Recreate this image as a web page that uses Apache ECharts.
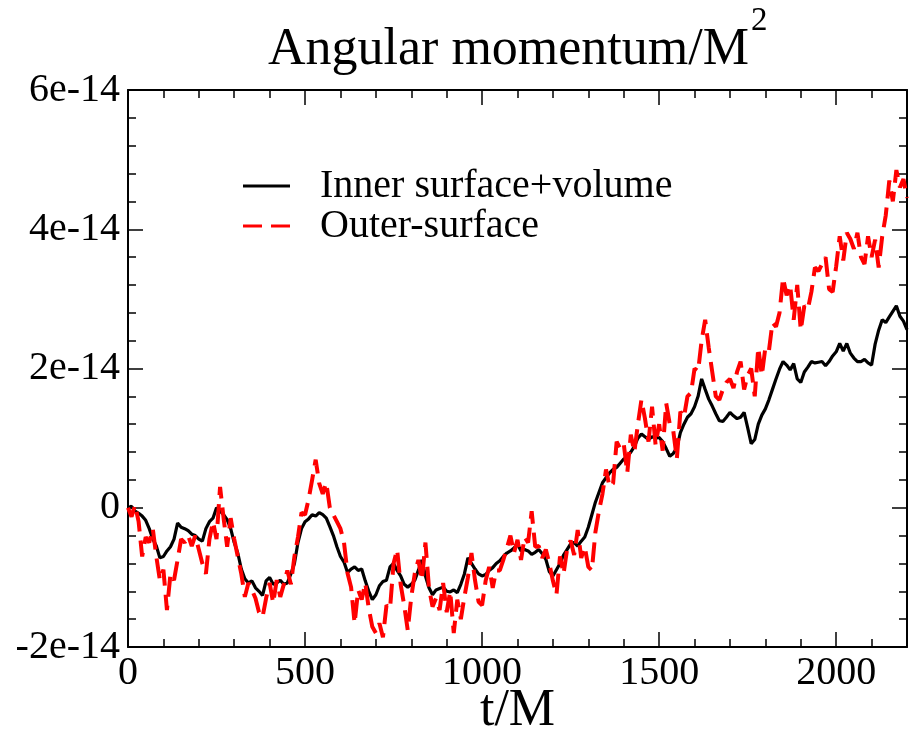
<!DOCTYPE html>
<html>
<head>
<meta charset="utf-8">
<script src="https://cdn.jsdelivr.net/npm/echarts@6/dist/echarts.min.js"></script>
<style>
html,body{margin:0;padding:0;background:#fff;}
#chart{width:910px;height:729px;}
</style>
</head>
<body>
<div id="chart"></div>
<script>
// Values are in units of 1e-14 (Angular momentum / M^2), sampled every 10 t/M from 0 to 2200.
const T_START = 0;
const T_STEP = 10;
const innerSurfaceVolume = [
  0.0, 0.02, -0.05, -0.08, -0.12, -0.18, -0.3, -0.45, -0.55, -0.72,
  -0.7, -0.62, -0.56, -0.45, -0.22, -0.28, -0.3, -0.33, -0.38, -0.4,
  -0.45, -0.48, -0.3, -0.2, -0.15, 0.0, -0.05, -0.1, -0.17, -0.3,
  -0.5, -0.65, -0.88, -1.02, -1.08, -1.05, -1.15, -1.2, -1.26, -1.05,
  -1.0, -1.1, -1.08, -1.04, -1.1, -1.08, -0.95, -0.8, -0.5, -0.3,
  -0.2, -0.16, -0.1, -0.12, -0.07, -0.1, -0.15, -0.27, -0.4, -0.56,
  -0.7, -0.78, -0.93, -0.88, -0.85, -0.9, -0.88, -1.05, -1.2, -1.32,
  -1.25, -1.12, -1.06, -1.04, -0.85, -0.8, -0.9, -0.98, -1.1, -1.14,
  -1.1, -1.04, -0.9, -0.75, -0.98, -1.15, -1.25, -1.18, -1.16, -1.14,
  -1.2, -1.21, -1.18, -1.22, -1.1, -0.95, -0.72, -0.8, -0.88, -0.95,
  -0.98, -0.96, -0.9, -0.86, -0.8, -0.76, -0.7, -0.65, -0.62, -0.58,
  -0.52, -0.62, -0.6, -0.62, -0.67, -0.64, -0.6, -0.66, -0.74, -0.92,
  -0.98, -0.89, -0.8, -0.68, -0.6, -0.52, -0.5, -0.55, -0.48, -0.42,
  -0.28, -0.1, 0.08, 0.22, 0.36, 0.43, 0.5, 0.55, 0.58, 0.64,
  0.7, 0.73, 0.8, 0.88, 1.0, 1.06, 1.02, 0.98, 1.02, 1.0,
  1.01, 0.95, 0.85, 0.74, 0.78, 0.86, 1.08, 1.2, 1.3, 1.35,
  1.45, 1.6, 1.85, 1.7, 1.56, 1.46, 1.35, 1.25, 1.24, 1.3,
  1.37, 1.32, 1.28, 1.3, 1.37, 1.15, 0.92, 0.98, 1.2, 1.33,
  1.42, 1.55, 1.7, 1.85, 1.99, 2.1, 2.05, 1.98, 2.07, 1.85,
  1.8, 1.95, 2.02, 2.1, 2.08, 2.09, 2.1, 2.04, 2.1, 2.18,
  2.24, 2.36, 2.25, 2.36, 2.22, 2.15, 2.1, 2.1, 2.13, 2.08,
  2.05, 2.35, 2.55, 2.7, 2.66, 2.74, 2.82, 2.9, 2.75, 2.68,
  2.56
];
const outerSurface = [
  0.0, -0.13, 0.04, -0.2, -0.7, -0.42, -0.5, -0.3, -0.7, -1.04,
  -0.89, -1.47, -0.95, -1.04, -0.75, -0.45, -0.5, -0.4, -0.55, -0.4,
  -0.6, -0.8, -0.95, -0.45, -0.2, -0.45, 0.3, -0.15, -0.56, -0.15,
  -0.45, -0.7, -0.95, -1.28, -1.08, -1.18, -1.3, -1.5, -1.57, -1.3,
  -1.08, -1.37, -1.04, -1.28, -1.1, -0.9, -1.1, -0.7, -0.42, -0.07,
  -0.1, 0.12, 0.4, 0.69, 0.35, 0.2, 0.36, 0.0, -0.1, -0.2,
  -0.3, -0.5, -0.94, -1.14, -1.66, -1.18, -1.32, -1.08, -1.45, -1.71,
  -1.8, -1.66, -1.86, -1.4, -1.45, -0.8, -0.6, -1.1, -1.4, -1.76,
  -1.28, -0.94, -0.75, -1.04, -0.5, -1.15, -1.42, -1.3, -1.47, -1.08,
  -1.5, -1.2, -1.8, -1.32, -1.6, -1.28, -1.0, -0.65, -1.04, -1.35,
  -1.4, -1.05, -0.85, -1.15, -0.9, -0.9, -0.75, -0.58, -0.4, -0.65,
  -0.46, -0.75, -0.42, -0.5, -0.05, -0.56, -0.55, -0.72, -0.6, -0.8,
  -1.05, -1.25, -0.7, -0.95, -0.6, -0.47, -0.68, -0.32, -0.72, -0.56,
  -0.85, -0.9, -0.35, -0.05, 0.2, 0.55, 0.3, 0.35, 0.95, 0.85,
  0.92, 0.5, 1.05, 0.8, 1.2, 1.55, 1.28, 0.95, 1.45, 0.9,
  1.2, 0.82, 1.5, 1.2, 1.1, 0.7, 1.38, 1.3, 1.6, 1.65,
  2.0, 1.96, 2.4, 2.7, 2.3, 1.95, 1.6, 1.55, 1.7, 1.8,
  1.85, 1.72, 1.95, 2.1, 1.7, 1.9, 2.0, 1.6, 2.3, 1.9,
  2.3, 2.25, 2.66, 2.6, 2.8, 3.3, 3.05, 3.2, 2.7, 3.2,
  2.55, 2.9, 2.85, 3.1, 3.45, 3.4, 3.5, 3.6, 3.14, 3.1,
  3.47, 3.9, 3.55, 3.95, 3.86, 3.72, 3.95, 3.6, 3.5, 3.9,
  3.6, 3.85, 3.45, 3.9, 4.2, 4.7, 4.4, 4.85, 4.6, 4.72,
  4.45
];
const seriesNames = ['Inner surface+volume', 'Outer-surface'];
const titleText = 'Angular momentum/M';
const titleSup = '2';
const xName = 't/M';
const xTicks = {min: 0, max: 2200, major: 500, minor: 100};
const yTicks = {min: -2, max: 6, major: 2};
const yExponent = 'e-14';

function pairs(arr) {
  return arr.map((v, i) => [T_START + i * T_STEP, v]);
}

const FONT = "'Liberation Serif', 'Times New Roman', serif";
const black = '#000';

function xAx(pos, major, showLabel) {
  return {
    type: 'value', position: pos, min: xTicks.min, max: xTicks.max,
    interval: major ? xTicks.major : xTicks.minor,
    axisLine: {show: major, onZero: false, lineStyle: {color: black, width: 2}},
    axisTick: {show: true, inside: true, length: major ? 15 : 8, lineStyle: {color: black, width: 1.5}},
    axisLabel: {show: showLabel, showMaxLabel: false, color: black, fontFamily: FONT, fontSize: 40, margin: 6,
      formatter: v => String(v)},
    splitLine: {show: false},
    name: showLabel ? xName : '',
    nameLocation: 'middle', nameGap: 38, nameMoveOverlap: false,
    nameTextStyle: {color: black, fontFamily: FONT, fontSize: 52}
  };
}
function yAx(pos, showLabel) {
  return {
    type: 'value', position: pos, min: yTicks.min, max: yTicks.max, interval: yTicks.major,
    axisLine: {show: true, onZero: false, lineStyle: {color: black, width: 2}},
    axisTick: {show: true, inside: true, length: 15, lineStyle: {color: black, width: 1.5}},
    minorTick: {show: true, splitNumber: 5, length: 8, lineStyle: {color: black, width: 1.5}},
    axisLabel: {show: showLabel, color: black, fontFamily: FONT, fontSize: 40, margin: 8,
      formatter: v => v === 0 ? '0' : (v + yExponent)},
    splitLine: {show: false}, minorSplitLine: {show: false}
  };
}

const chart = echarts.init(document.getElementById('chart'), null, {renderer: 'canvas'});
chart.setOption({
  animation: false,
  backgroundColor: '#fff',
  title: {
    text: titleText,
    left: 268, top: 20, padding: 0,
    textStyle: {fontFamily: FONT, fontSize: 52, fontWeight: 'normal', color: black, lineHeight: 60}
  },
  graphic: [{
    type: 'text', left: 751, top: 5,
    style: {text: titleSup, fontFamily: FONT, fontSize: 33, fill: black}
  }],
  legend: {
    orient: 'vertical', left: 243, top: 166, padding: 0,
    itemWidth: 47, itemHeight: 3, itemGap: 0,
    textStyle: {fontFamily: FONT, fontSize: 40, color: black, lineHeight: 36, padding: [0, 0, 0, 25]},
    data: [
      {name: seriesNames[0], icon: 'path://M0,0h47v3h-47z'},
      {name: seriesNames[1], icon: 'path://M0,0h19v3h-19z M28,0h19v3h-19z'}
    ]
  },
  grid: {left: 128, right: 3, top: 90, bottom: 82, containLabel: false, outerBoundsMode: 'none'},
  xAxis: [xAx('bottom', true, true), xAx('bottom', false, false), xAx('top', true, false), xAx('top', false, false)],
  yAxis: [yAx('left', true), yAx('right', false)],
  series: [
    {name: seriesNames[0], type: 'line', xAxisIndex: 0, yAxisIndex: 0, data: pairs(innerSurfaceVolume),
      showSymbol: false, symbol: 'none', color: black,
      lineStyle: {color: black, width: 3.2}, z: 3},
    {name: seriesNames[1], type: 'line', xAxisIndex: 0, yAxisIndex: 0, data: pairs(outerSurface),
      showSymbol: false, symbol: 'none', color: '#ff0000',
      lineStyle: {color: '#ff0000', width: 4, type: [20, 9]}, z: 4}
  ]
});
</script>
</body>
</html>
